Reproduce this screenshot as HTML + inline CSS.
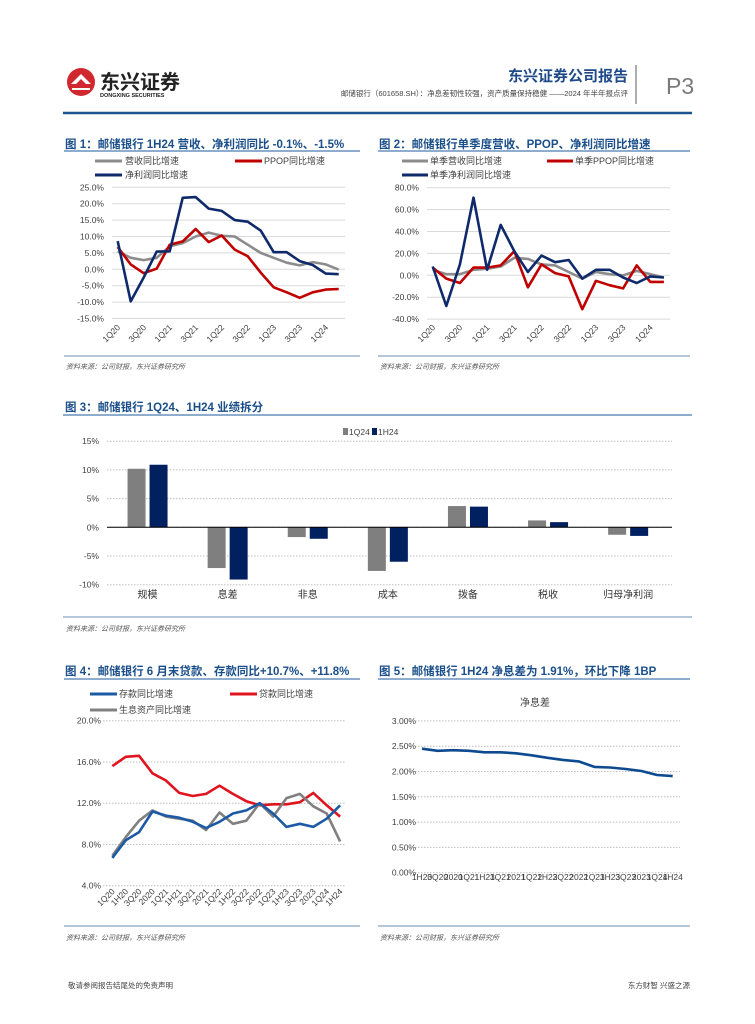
<!DOCTYPE html>
<html><head><meta charset="utf-8">
<style>
html,body{margin:0;padding:0;background:#fff;}
svg{display:block;font-family:"Liberation Sans","Noto Sans CJK SC",sans-serif;}
.t{fill:#1b4f8a;font-weight:bold;font-size:11.5px;}
.tk{fill:#404040;font-size:8.5px;}
.lg{fill:#404040;font-size:9px;}
.src{fill:#555;font-size:7px;font-style:italic;}
</style></head>
<body>
<svg id="page" width="755" height="1024" viewBox="0 0 755 1024">
  <!-- header -->
  <g>
    <circle cx="81" cy="82" r="14" fill="#d0282e"/>
    <path d="M71 84 L81 74 L91 84 L86 84 L81 79 L76 84 Z" fill="#fff"/>
    <path d="M72 88 L90 88 L90 90 L72 90 Z" fill="#fff"/>
    <text x="100" y="89" font-size="20" font-weight="bold" fill="#222">东兴证券</text>
    <text x="100" y="97" font-size="5.5" font-weight="bold" fill="#222">DONGXING SECURITIES</text>
    <text x="628" y="81" font-size="15" font-weight="bold" fill="#1e4a8a" text-anchor="end">东兴证券公司报告</text>
    <text x="628" y="96" font-size="7.5" fill="#444" text-anchor="end">邮储银行（601658.SH）：净息差韧性较强，资产质量保持稳健 ——2024 年半年报点评</text>
    <line x1="636" y1="65" x2="636" y2="104" stroke="#777" stroke-width="1.2"/>
    <text x="666" y="94" font-size="23" fill="#7a7a7a">P3</text>
    <line x1="63" y1="113" x2="692" y2="113" stroke="#1a5490" stroke-width="2.6"/>
  </g>

  <!-- figure 1 -->
  <g id="c1">
    <text class="t" x="65" y="148">图 1：邮储银行 1H24 营收、净利润同比 -0.1%、-1.5%</text>
    <line x1="64" y1="151" x2="360" y2="151" stroke="#4a7ab0" stroke-width="1.2"/>
    <g><line x1="95" y1="161" x2="122" y2="161" stroke="#8c8c8c" stroke-width="3"/><text class="lg" x="125" y="164">营收同比增速</text></g>
    <g><line x1="235" y1="161" x2="262" y2="161" stroke="#c00000" stroke-width="3"/><text class="lg" x="264" y="164">PPOP同比增速</text></g>
    <g><line x1="95" y1="175" x2="122" y2="175" stroke="#0f2a6b" stroke-width="3"/><text class="lg" x="125" y="178">净利润同比增速</text></g>
    <line x1="64" y1="356" x2="360" y2="356" stroke="#6f8fb5" stroke-width="1"/>
    <text class="src" x="66" y="369">资料来源：公司财报，东兴证券研究所</text>
  </g>

  <!-- figure 2 -->
  <g id="c2">
    <text class="t" x="379" y="148">图 2：邮储银行单季度营收、PPOP、净利润同比增速</text>
    <line x1="378" y1="151" x2="690" y2="151" stroke="#4a7ab0" stroke-width="1.2"/>
    <g><line x1="402" y1="161" x2="428" y2="161" stroke="#8c8c8c" stroke-width="3"/><text class="lg" x="430" y="164">单季营收同比增速</text></g>
    <g><line x1="547" y1="161" x2="573" y2="161" stroke="#c00000" stroke-width="3"/><text class="lg" x="575" y="164">单季PPOP同比增速</text></g>
    <g><line x1="402" y1="175" x2="428" y2="175" stroke="#0f2a6b" stroke-width="3"/><text class="lg" x="430" y="178">单季净利润同比增速</text></g>
    <line x1="378" y1="356" x2="690" y2="356" stroke="#6f8fb5" stroke-width="1"/>
    <text class="src" x="380" y="369">资料来源：公司财报，东兴证券研究所</text>
  </g>

  <!-- figure 3 -->
  <g id="c3">
    <text class="t" x="65" y="411">图 3：邮储银行 1Q24、1H24 业绩拆分</text>
    <line x1="63" y1="415" x2="692" y2="415" stroke="#4a7ab0" stroke-width="1.2"/>
    <g><rect x="343" y="428" width="5" height="7" fill="#7f7f7f"/><text class="tk" x="349" y="435">1Q24</text></g>
    <g><rect x="372" y="428" width="5" height="7" fill="#002060"/><text class="tk" x="378" y="435">1H24</text></g>
    <line x1="63" y1="617" x2="692" y2="617" stroke="#6f8fb5" stroke-width="1"/>
    <text class="src" x="66" y="631">资料来源：公司财报，东兴证券研究所</text>
  </g>

  <!-- figure 4 -->
  <g id="c4">
    <text class="t" x="65" y="675">图 4：邮储银行 6 月末贷款、存款同比+10.7%、+11.8%</text>
    <line x1="64" y1="679" x2="360" y2="679" stroke="#4a7ab0" stroke-width="1.2"/>
    <g><line x1="90" y1="694" x2="117" y2="694" stroke="#1c5aa6" stroke-width="3"/><text class="lg" x="119" y="697">存款同比增速</text></g>
    <g><line x1="230" y1="694" x2="257" y2="694" stroke="#e0141e" stroke-width="3"/><text class="lg" x="259" y="697">贷款同比增速</text></g>
    <g><line x1="90" y1="710" x2="117" y2="710" stroke="#808080" stroke-width="3"/><text class="lg" x="119" y="713">生息资产同比增速</text></g>
    <line x1="64" y1="926" x2="360" y2="926" stroke="#6f8fb5" stroke-width="1"/>
    <text class="src" x="66" y="940">资料来源：公司财报，东兴证券研究所</text>
  </g>

  <!-- figure 5 -->
  <g id="c5">
    <text class="t" x="379" y="675">图 5：邮储银行 1H24 净息差为 1.91%，环比下降 1BP</text>
    <line x1="378" y1="679" x2="690" y2="679" stroke="#4a7ab0" stroke-width="1.2"/>
    <text x="535" y="706" font-size="10" fill="#444" text-anchor="middle">净息差</text>
    <line x1="378" y1="926" x2="690" y2="926" stroke="#6f8fb5" stroke-width="1"/>
    <text class="src" x="380" y="940">资料来源：公司财报，东兴证券研究所</text>
  </g>

  <text x="68" y="988" font-size="7.5" fill="#444">敬请参阅报告结尾处的免责声明</text>
  <text x="690" y="988" font-size="7.5" fill="#444" text-anchor="end">东方财智 兴盛之源</text>
</svg>

<script>
// ---- chart 1 data ----
const c1Labels = ['1Q20','3Q20','1Q21','3Q21','1Q22','3Q22','1Q23','3Q23','1Q24'];
const c1Ticks = [25,20,15,10,5,0,-5,-10,-15];
const c1Revenue = [5.5,3.5,2.8,3.5,7,8,10,11.2,10.2,10,7.5,5,3.5,2,1.2,2.2,1.5,-0.1];
const c1Ppop = [6.8,1.5,-1.2,0.2,7.5,8.5,12.3,8.3,10.3,6,4,-1,-5.5,-7,-8.7,-7,-6.2,-6];
const c1Profit = [8.6,-9.8,-2.5,5.4,5.5,21.8,22,18.5,17.8,15,14.5,11.8,5.2,5.2,2.5,1.3,-1.3,-1.5];
// ---- chart 2 data ----
const c2Labels = ['1Q20','3Q20','1Q21','3Q21','1Q22','3Q22','1Q23','3Q23','1Q24'];
const c2Ticks = [80,60,40,20,0,-20,-40];
const c2Revenue = [5,1,1,5,6,8,16,15,10,9,3,-3,3,1,0,4,1,-2];
const c2Ppop = [7,-3,-7,7,7,9,22,-11,10,2,-1,-31,-5,-9,-12,9,-6,-6];
const c2Profit = [8,-28,10,71,5,46,22,3,18,12,14,-3,5,5,-2,-7,-1,-2];
// ---- chart 3 data ----
const c3Cats = ['规模','息差','非息','成本','拨备','税收','归母净利润'];
const c3Ticks = [15,10,5,0,-5,-10];
const c3Q1 = [10.2,-7.1,-1.7,-7.6,3.7,1.2,-1.3];
const c3H1 = [10.9,-9.1,-2.0,-6.0,3.6,0.9,-1.5];
// ---- chart 4 data ----
const c4Labels = ['1Q20','1H20','3Q20','2020','1Q21','1H21','3Q21','2021','1Q22','1H22','3Q22','2022','1Q23','1H23','3Q23','2023','1Q24','1H24'];
const c4Ticks = [20,16,12,8,4];
const c4Deposits = [6.7,8.4,9.2,11.2,10.8,10.6,10.2,9.6,10.2,11.0,11.3,12.0,11.0,9.7,10.0,9.7,10.5,11.8];
const c4Loans = [15.6,16.5,16.6,14.9,14.2,13.0,12.7,12.9,13.7,12.9,12.2,11.8,11.9,11.9,12.1,13.0,11.8,10.7];
const c4Assets = [6.9,8.7,10.3,11.3,10.7,10.5,10.3,9.4,11.1,10.0,10.3,12.0,10.7,12.5,12.9,11.7,11.0,8.3];
// ---- chart 5 data ----
const c5Labels = ['1H20','3Q20','2020','1Q21','1H21','3Q21','2021','1Q22','1H22','3Q22','2022','1Q23','1H23','3Q23','2023','1Q24','1H24'];
const c5Ticks = [3.0,2.5,2.0,1.5,1.0,0.5,0.0];
const c5Nim = [2.45,2.41,2.42,2.41,2.38,2.38,2.36,2.32,2.27,2.23,2.20,2.09,2.08,2.05,2.01,1.93,1.91];

const NS = 'http://www.w3.org/2000/svg';
function mk(tag, attrs, parent){const e=document.createElementNS(NS,tag);for(const k in attrs)e.setAttribute(k,attrs[k]);parent.appendChild(e);return e;}

// axis functions
const x1 = i => 117.7 + i*13.0;
const y1 = v => 269.3 - v*3.28;
const x2 = i => 432.7 + i*13.6;
const y2 = v => 275.3 - v*1.095;
const cx3 = i => 107.5 + (i+0.5)*80.1;
const y3 = v => 527.3 - v*5.74;
const x4 = i => 112.3 + i*13.4;
const y4 = v => 885.7 - (v-4)*10.31;
const x5 = i => 422 + i*15.67;
const y5 = v => 872.7 - v*50.6;

function grid(g, ticks, yf, xa, xb, dash, fmt, lx, name){
  ticks.forEach(t=>{
    const l = mk('line',{x1:xa,x2:xb,y1:yf(t),y2:yf(t),stroke:dash?'#bfbfbf':'#d9d9d9','stroke-width':1,'stroke-dasharray':dash?'1.5 1.5':'none'},g);
    
    
    const tx = mk('text',{x:lx,y:yf(t)+3,class:'tk','text-anchor':'end'},g);
    tx.textContent = fmt(t);
    
    
  });
}
function series(g, vals, xf, yf, color, name){
  const d = vals.map((v,i)=>(i?'L':'M')+xf(i).toFixed(1)+' '+yf(v).toFixed(1)).join(' ');
  const p = mk('path',{d:d,fill:'none',stroke:color,'stroke-width':2.6,'stroke-linejoin':'round'},g);
  
  
}
function rotLabels(g, labels, xf, step, y, name){
  labels.forEach((s,k)=>{
    const x = xf(k*step)+3;
    const t = mk('text',{x:x,y:y,class:'tk','text-anchor':'end',transform:'rotate(-45 '+x+' '+y+')'},g);
    t.textContent = s;
    
    
  });
}

// chart 1
const g1 = document.getElementById('c1');
grid(g1, c1Ticks, y1, 112, 345, false, t=>t.toFixed(1)+'%', 104, 'chart-1');
series(g1, c1Revenue, x1, y1, '#8c8c8c', 'revenue-growth-line');
series(g1, c1Ppop, x1, y1, '#c00000', 'ppop-growth-line');
series(g1, c1Profit, x1, y1, '#0f2a6b', 'net-profit-growth-line');
rotLabels(g1, c1Labels, x1, 2, 328, 'chart-1');

// chart 2
const g2 = document.getElementById('c2');
grid(g2, c2Ticks, y2, 427, 670, false, t=>t.toFixed(1)+'%', 419, 'chart-2');
series(g2, c2Revenue, x2, y2, '#8c8c8c', 'q-revenue-growth-line');
series(g2, c2Ppop, x2, y2, '#c00000', 'q-ppop-growth-line');
series(g2, c2Profit, x2, y2, '#0f2a6b', 'q-net-profit-growth-line');
rotLabels(g2, c2Labels, x2, 2, 328, 'chart-2');

// chart 3
const g3 = document.getElementById('c3');
grid(g3, c3Ticks, y3, 107, 672, true, t=>t+'%', 99, 'chart-3');
c3Cats.forEach((c,i)=>{
  const cx = cx3(i);
  [[c3Q1[i],cx-20,'#7f7f7f','bar-1q24-'],[c3H1[i],cx+2,'#002060','bar-1h24-']].forEach(b=>{
    const top = Math.min(y3(0), y3(b[0]));
    const r = mk('rect',{x:b[1],y:top,width:18,height:Math.abs(y3(b[0])-y3(0)),fill:b[2]},g3);
    
    
  });
  const t = mk('text',{x:cx,y:598,'font-size':10,fill:'#333','text-anchor':'middle'},g3);
  t.textContent = c;
  
  
});
const zl = mk('line',{x1:107,x2:672,y1:y3(0),y2:y3(0),stroke:'#000','stroke-width':1},g3);



// chart 4
const g4 = document.getElementById('c4');
grid(g4, c4Ticks, y4, 103, 345, true, t=>t.toFixed(1)+'%', 101, 'chart-4');
series(g4, c4Loans, x4, y4, '#e0141e', 'loan-growth-line');
series(g4, c4Assets, x4, y4, '#808080', 'earning-asset-growth-line');
series(g4, c4Deposits, x4, y4, '#1c5aa6', 'deposit-growth-line');
rotLabels(g4, c4Labels, x4, 1, 892, 'chart-4');

// chart 5
const g5 = document.getElementById('c5');
grid(g5, c5Ticks, y5, 415, 680, true, t=>t.toFixed(2)+'%', 416, 'chart-5');
series(g5, c5Nim, x5, y5, '#0d4a8f', 'nim-line');
c5Labels.forEach((s,i)=>{
  const t = mk('text',{x:x5(i),y:880,class:'tk','text-anchor':'middle'},g5);
  t.textContent = s;
  
  
});
</script>
</body></html>
